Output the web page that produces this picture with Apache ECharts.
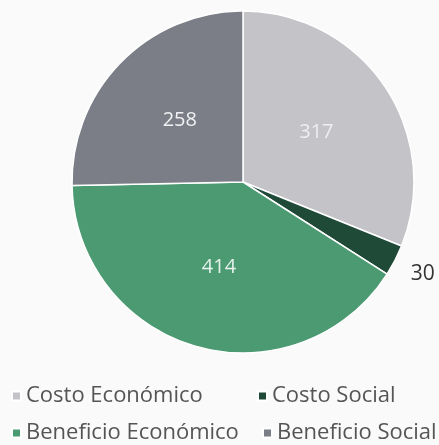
<!DOCTYPE html>
<html><head><meta charset="utf-8">
<script src="https://cdn.jsdelivr.net/npm/echarts@6/dist/echarts.min.js"></script>
<style>html,body{margin:0;padding:0;background:#fafafa}#c{width:439px;height:445px}</style>
</head><body><div id="c"></div>
<script>
const categories = ['Costo Económico', 'Costo Social', 'Beneficio Económico', 'Beneficio Social'];
const values = [317, 30, 414, 258];
const colors = ['#c4c4c8', '#1f4a38', '#4b9a72', '#7b7d87'];
const insideLabelColors = ['#eeeef0', '#ffffff', '#e4f2ea', '#f2f2f4'];

const chart = echarts.init(document.getElementById('c'));
const data = categories.map((name, i) => {
  const d = { name, value: values[i], itemStyle: { color: colors[i] } };
  if (values[i] < 50) {
    d.label = { position: 'outside', color: '#333', fontSize: 21, fontWeight: 'normal', offset: [0, 8] };
    d.labelLine = { show: false, length: 12, length2: 0 };
  } else {
    d.label = { position: 'inside', color: insideLabelColors[i] };
  }
  return d;
});
const legendText = { fontFamily: 'Open Sans', fontSize: 22, color: '#555' };
// legend slots: [left, top] for each category, two rows of two
const legendSlots = [[11, 385], [257, 385], [11, 422], [262, 422]];
chart.setOption({
  backgroundColor: '#fafafa',
  animation: false,
  legend: categories.map((name, i) => ({
    data: [name], left: legendSlots[i][0], top: legendSlots[i][1], padding: 0,
    itemWidth: 9, itemHeight: 9, itemGap: 0, icon: 'rect', textStyle: legendText
  })),
  series: [{
    type: 'pie',
    center: [243, 182],
    radius: [0, 171],
    startAngle: 90,
    clockwise: true,
    avoidLabelOverlap: false,
    itemStyle: { borderColor: '#ffffff', borderWidth: 1.5 },
    label: { show: true, formatter: '{c}', fontFamily: 'Open Sans', fontSize: 20 },
    emphasis: { disabled: true },
    data
  }]
});
</script></body></html>
